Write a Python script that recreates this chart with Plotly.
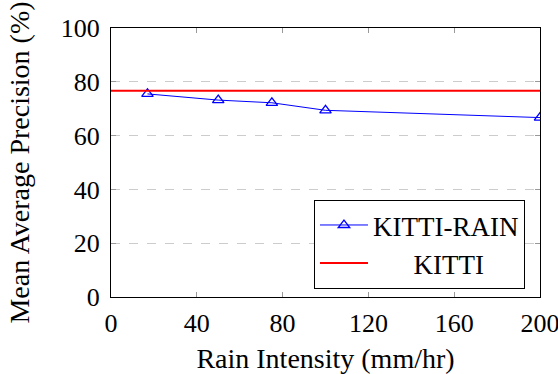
import plotly.graph_objects as go

# rain intensity (mm/hr) vs mAP
rain_intensity = [17, 50, 75, 100, 200]
map_rain = [75.5, 73.2, 72.2, 69.4, 66.7]

# clear-weather KITTI baseline
kitti_x = [0, 200]
kitti_y = [76.7, 76.7]

x_ticks = [0, 40, 80, 120, 160, 200]
y_ticks = [0, 20, 40, 60, 80, 100]

serif = "Liberation Serif, Times New Roman, serif"

fig = go.Figure()

fig.add_trace(
    go.Scatter(
        x=rain_intensity,
        y=map_rain,
        mode="lines+markers",
        name="KITTI-RAIN",
        line=dict(color="#0000ff", width=1),
        marker=dict(symbol="triangle-up-open", size=10, color="#0000ff", line=dict(width=1.3)),
    )
)
fig.add_trace(
    go.Scatter(
        x=kitti_x,
        y=kitti_y,
        mode="lines",
        name="\u00a0" * 6 + "KITTI",
        line=dict(color="#ff0000", width=2),
    )
)

fig.update_layout(
    width=558,
    height=374,
    margin=dict(l=111, r=18, t=28, b=77, autoexpand=False),
    paper_bgcolor="white",
    plot_bgcolor="white",
    font=dict(family=serif, size=27, color="black"),
    showlegend=True,
    legend=dict(
        x=0.965,
        y=0.03,
        xanchor="right",
        yanchor="bottom",
        bordercolor="black",
        borderwidth=1,
        bgcolor="white",
        font=dict(family=serif, size=27),
        itemwidth=48,
        tracegroupgap=0,
    ),
)

fig.update_xaxes(
    range=[0, 200],
    tickvals=x_ticks,
    automargin=False,
    ticklabeloverflow="allow",
    showgrid=False,
    zeroline=False,
    showline=True,
    linecolor="black",
    linewidth=1,
    mirror="ticks",
    ticks="inside",
    ticklen=5,
    tickcolor="#999999",
    ticklabelstandoff=3,
    tickfont=dict(family=serif, size=26),
    title=dict(text="Rain Intensity (mm/hr)", standoff=15, font=dict(family=serif, size=28)),
)
fig.update_yaxes(
    range=[0, 100],
    tickvals=y_ticks,
    automargin=False,
    ticklabeloverflow="allow",
    showgrid=True,
    gridcolor="#cccccc",
    griddash="dash",
    gridwidth=1,
    zeroline=False,
    showline=True,
    linecolor="black",
    linewidth=1,
    mirror="ticks",
    ticks="inside",
    ticklen=5,
    tickcolor="#999999",
    ticklabelstandoff=5,
    tickfont=dict(family=serif, size=26),
    title=dict(text="Mean Average Precision (%)", standoff=22, font=dict(family=serif, size=28)),
)

# drop the browser's default 8px body margin so the figure sits at the corner
fig.write_html(
    "out.html",
    config={"displayModeBar": False},
    post_script="document.body.style.margin='0';",
)
